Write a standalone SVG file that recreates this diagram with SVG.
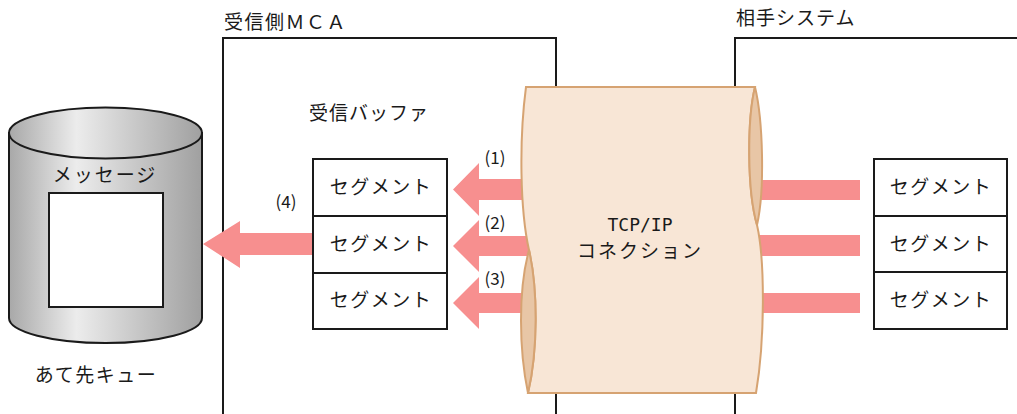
<svg xmlns="http://www.w3.org/2000/svg" width="1017" height="414" viewBox="0 0 1017 414">
<style>
text{font-family:"Noto Sans CJK JP","Noto Sans",sans-serif;fill:#1a1a1a;font-size:19px}
.frame{fill:none;stroke:#1a1a1a;stroke-width:2}
.seg{fill:#fff;stroke:#1a1a1a;stroke-width:2}
.arrow{fill:#f78f8f}
.c{text-anchor:middle}
.num{font-size:17px}
.lens{fill:#e8c6a6;stroke:#d6a372;stroke-width:2}
</style>
<defs>
<linearGradient id="cyl" x1="0" y1="0" x2="1" y2="0">
<stop offset="0" stop-color="#a8a8a8"/>
<stop offset="0.35" stop-color="#ececec"/>
<stop offset="1" stop-color="#a0a0a0"/>
</linearGradient>
</defs>

<g id="mca">
<path class="frame" d="M223,414 V38 H556 V414"/>
<text x="224" y="29" style="letter-spacing:1.5px">受信側ＭＣＡ</text>
<text x="309" y="120" style="letter-spacing:1px">受信バッファ</text>
</g>
<g id="partner">
<path class="frame" d="M735,414 V38 H1017"/>
<text x="736" y="25" style="letter-spacing:1px">相手システム</text>
</g>

<g id="connectors">
<rect class="arrow" x="750" y="180" width="110" height="20"/>
<rect class="arrow" x="750" y="235" width="110" height="21"/>
<rect class="arrow" x="750" y="293" width="110" height="20"/>
<path class="arrow" d="M530,179 H479 V163 L453,189.5 L479,216 V200 H530 Z"/>
<path class="arrow" d="M535,236 H479 V220 L453,246 L479,272 V256 H535 Z"/>
<path class="arrow" d="M540,293 H479 V277 L453,303 L479,329 V313 H540 Z"/>
<path class="arrow" d="M315,233 H240 V221 L203,244 L240,268 V255 H315 Z"/>
<text class="num c" x="495" y="164">(1)</text>
<text class="num c" x="495" y="229">(2)</text>
<text class="num c" x="495" y="285">(3)</text>
<text class="num c" x="286" y="208">(4)</text>
</g>

<g id="tcpip">
<path d="M526,87 H755 C747,120 747,190 757,225 C765,260 765,340 756,393 H528 C538,350 538,290 529,250 C520,210 519,140 526,87 Z" fill="#f8e6d6" stroke="#d6a372" stroke-width="2"/>
<path class="lens" d="M755,87 C763,120 765,190 757,225 C747,190 747,120 755,87 Z"/>
<path class="lens" d="M529,250 C538,290 538,350 528,393 C519,350 518,290 529,250 Z"/>
<text class="c" x="640" y="231" style="font-family:'DejaVu Sans Mono','Liberation Mono',monospace;font-size:18px">TCP/IP</text>
<text class="c" x="640" y="258" style="letter-spacing:2px">コネクション</text>
</g>

<g id="buffer-segments">
<rect class="seg" x="313" y="159" width="134" height="57"/>
<rect class="seg" x="313" y="216" width="134" height="57"/>
<rect class="seg" x="313" y="273" width="134" height="56"/>
<text class="c" x="381" y="194" style="letter-spacing:1.5px">セグメント</text>
<text class="c" x="381" y="251" style="letter-spacing:1.5px">セグメント</text>
<text class="c" x="381" y="307" style="letter-spacing:1.5px">セグメント</text>
</g>

<g id="partner-segments">
<rect class="seg" x="874" y="159" width="133" height="57"/>
<rect class="seg" x="874" y="216" width="133" height="56"/>
<rect class="seg" x="874" y="272" width="133" height="57"/>
<text class="c" x="941" y="194" style="letter-spacing:1.5px">セグメント</text>
<text class="c" x="941" y="251" style="letter-spacing:1.5px">セグメント</text>
<text class="c" x="941" y="307" style="letter-spacing:1.5px">セグメント</text>
</g>

<g id="queue">
<path d="M9,133 V318 A96.5,25 0 0 0 202,318 V133 Z" fill="url(#cyl)" stroke="#1a1a1a" stroke-width="2"/>
<ellipse cx="105.5" cy="133" rx="96.5" ry="25.5" fill="url(#cyl)" stroke="#1a1a1a" stroke-width="2"/>
<rect x="49" y="193" width="114" height="114" fill="#fff" stroke="#1a1a1a" stroke-width="2"/>
<text class="c" x="105" y="182" style="letter-spacing:2px">メッセージ</text>
<text class="c" x="96" y="382" style="letter-spacing:1.5px">あて先キュー</text>
</g>
</svg>
